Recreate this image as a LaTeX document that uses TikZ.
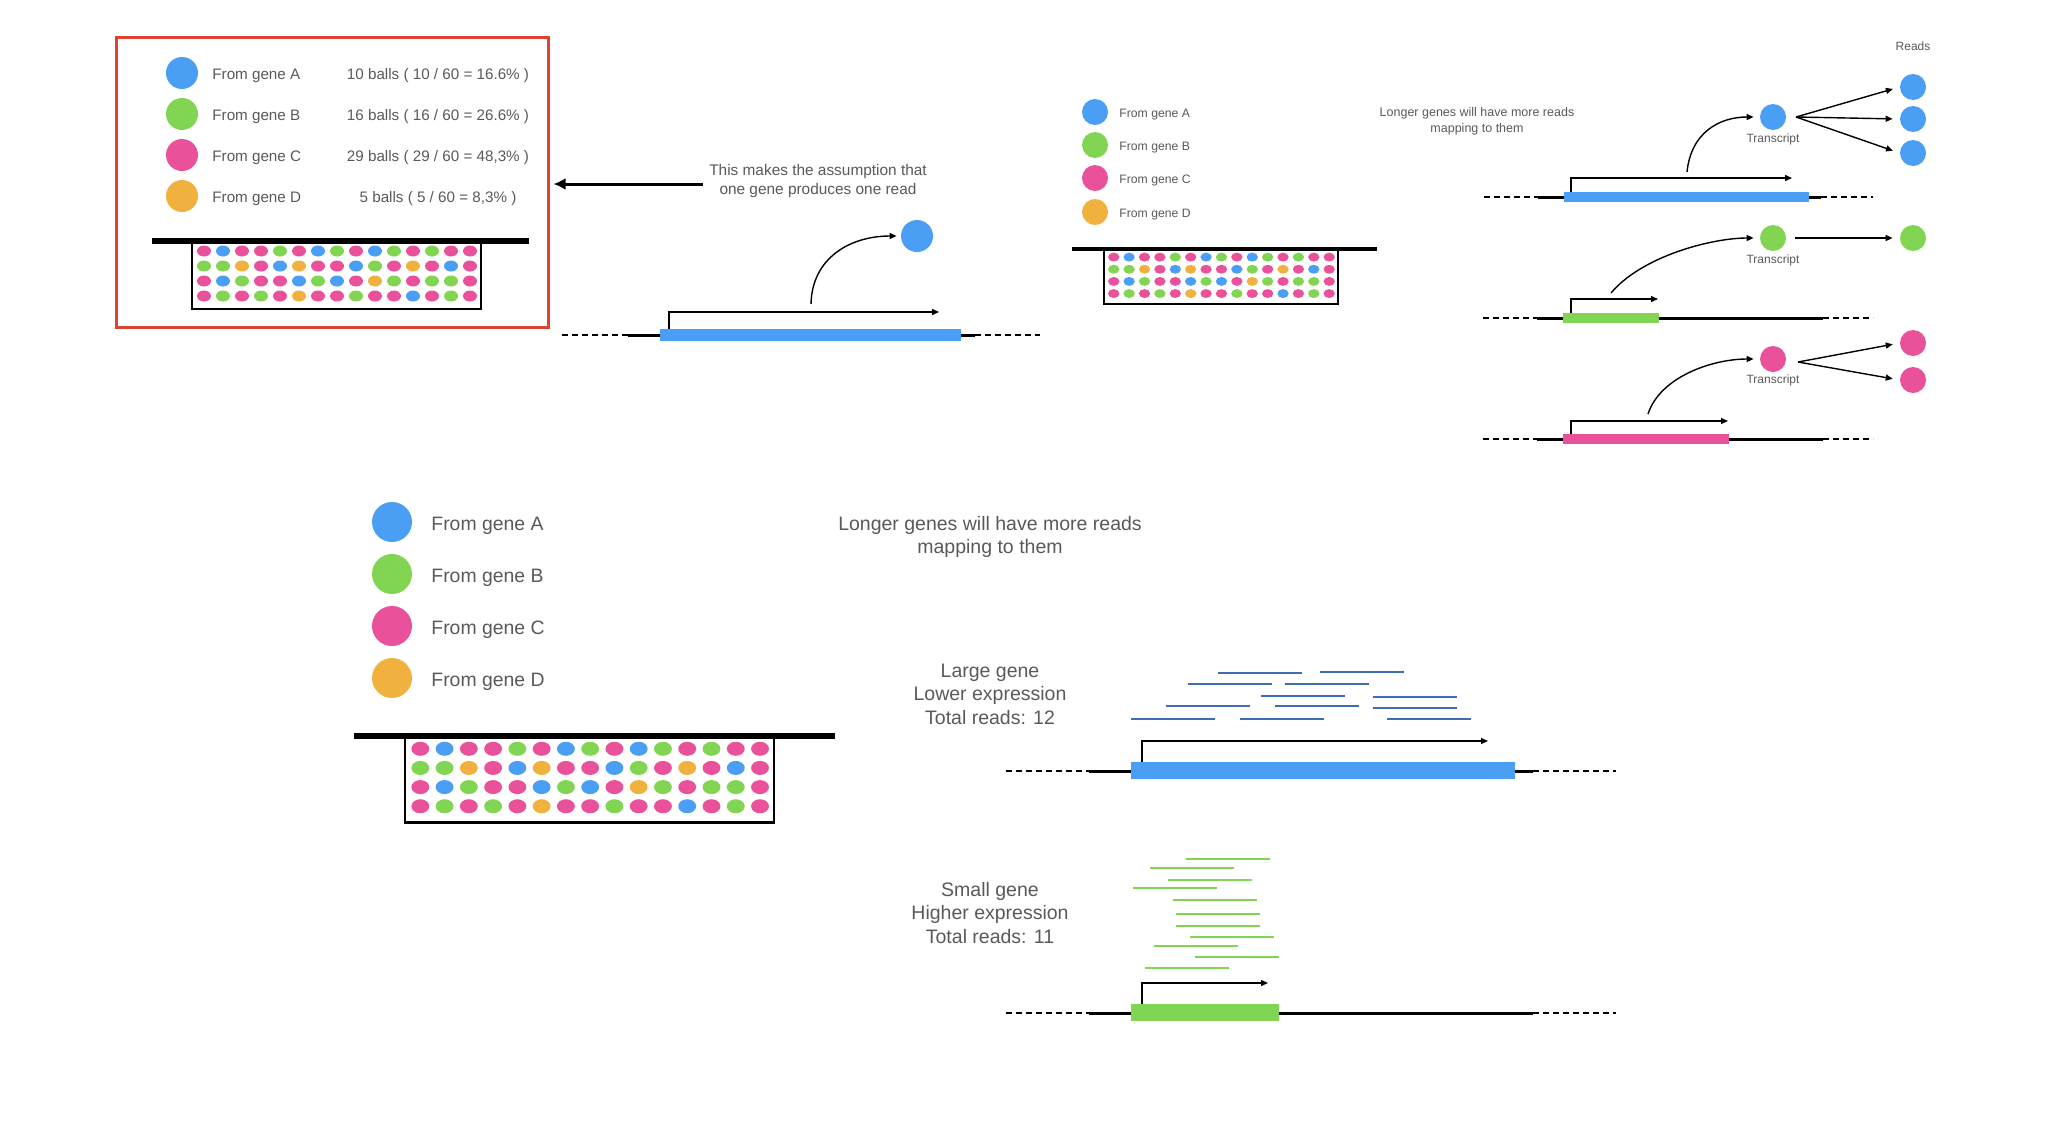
\documentclass[tikz,border=0pt]{standalone}
\usepackage{fontspec}
\setmainfont{Liberation Sans}
\usetikzlibrary{arrows.meta}
\definecolor{geneblue}{HTML}{4A9FF5}
\definecolor{genegreen}{HTML}{82D552}
\definecolor{genepink}{HTML}{E9529B}
\definecolor{geneorange}{HTML}{F0B13F}
\definecolor{readblue}{HTML}{3D6DB3}
\definecolor{boxred}{HTML}{DE4332}
\definecolor{txtgray}{HTML}{595959}
\colorlet{gA}{geneblue}
\colorlet{gB}{genegreen}
\colorlet{gC}{genepink}
\colorlet{gD}{geneorange}

% urn of 60 balls: top left corner of the box, scale
\newcommand{\ballurn}[3]{%
  \begin{scope}[shift={(#1,#2)}, scale=#3]
    \draw[line width=#3*1.1pt] (0,0) rectangle (289,68);
    \foreach \row [count=\j from 0] in {
      {gC,gA,gC,gC,gB,gC,gA,gB,gC,gA,gB,gC,gB,gC,gC},
      {gB,gB,gD,gC,gA,gD,gC,gC,gA,gB,gC,gD,gC,gA,gC},
      {gC,gA,gB,gC,gC,gA,gB,gA,gC,gD,gB,gC,gB,gB,gC},
      {gC,gB,gC,gB,gC,gD,gC,gC,gB,gC,gC,gA,gC,gB,gC}}{
      \foreach \c [count=\i from 0] in \row
        \fill[\c] (12+19*\i,10+15*\j) ellipse [x radius=7, y radius=5.5];
    }
    \draw[line width=#3*2.6pt] (-40,0) -- (337,0);
  \end{scope}}

\begin{document}
\begin{tikzpicture}[x=0.5pt, y=-0.5pt,
  ball/.style={circle, inner sep=0pt, minimum size=#1},
  ball/.default=16pt,
  txt/.style={text=txtgray, inner sep=0pt, align=center},
  bigleg/.style={txt, anchor=west, yshift=-1.5pt, font=\fontsize{7.6}{9}\selectfont},
  bigpct/.style={txt, yshift=-1.5pt, font=\fontsize{7.6}{9}\selectfont},
  smallleg/.style={txt, anchor=west, yshift=-1.3pt, font=\fontsize{6.1}{7.5}\selectfont},
  tinylbl/.style={txt, font=\fontsize{6}{8}\selectfont},
  largeleg/.style={txt, anchor=west, yshift=-2pt, font=\fontsize{9.7}{11.5}\selectfont},
  caption/.style={txt, font=\fontsize{9.75}{11.75}\selectfont},
  dnadash/.style={dash pattern=on 3pt off 2pt, line width=1.2pt},
  dna/.style={line width=1.5pt},
  tharrow/.style={-{Triangle[length=3.5pt,width=3pt]}, line width=0.7pt},
  readline/.style={line width=1.4pt}]
\useasboundingbox (0,0) rectangle (2048,1147);

% top left: counted balls
\node[draw=boxred, line width=1.5pt, minimum width=216pt, minimum height=145pt, inner sep=0pt] (redbox) at (332,182) {};
\node[ball, fill=geneblue] (tlA) at (182,73) {};
\node[ball, fill=genegreen] (tlB) at (182,114) {};
\node[ball, fill=genepink] (tlC) at (182,155) {};
\node[ball, fill=geneorange] (tlD) at (182,196) {};
\node[bigleg] (tlAtxt) at (212,73) {From gene A};
\node[bigleg] (tlBtxt) at (212,114) {From gene B};
\node[bigleg] (tlCtxt) at (212,155) {From gene C};
\node[bigleg] (tlDtxt) at (212,196) {From gene D};
\node[bigpct] (tlApct) at (438,73) {10 balls ( 10 / 60 = 16.6\% )};
\node[bigpct] (tlBpct) at (438,114) {16 balls ( 16 / 60 = 26.6\% )};
\node[bigpct] (tlCpct) at (438,155) {29 balls ( 29 / 60 = 48,3\% )};
\node[bigpct] (tlDpct) at (438,196) {5 balls ( 5 / 60 = 8,3\% )};
\ballurn{192}{241}{1}

% one gene, one read
\node[txt, font=\fontsize{7.7}{9.5}\selectfont] (note) at (818,181) {This makes the assumption that\\one gene produces one read};
\coordinate (notestart) at ([xshift=-3pt,yshift=-1.5pt]note.west);
\draw[-{Latex[length=6pt,width=6pt]}, line width=1.5pt, shorten >=2pt] (notestart) -- (notestart -| redbox.east);
\draw[dnadash] (562,335) -- (628,335);
\draw[dna] (628,335) -- (975,335);
\draw[dnadash] (975,335) -- (1040,335);
\fill[geneblue] (660,329) rectangle (961,341);
\draw[tharrow] (669,329) |- (939,312);
\node[ball, fill=geneblue] (oneread) at (917,236) {};
\draw[tharrow, shorten >=2pt] (811,304) .. controls (812,258) and (850,236) .. (oneread.west);

% middle legend and urn
\node[ball=13pt, fill=geneblue] (mA) at (1095,112) {};
\node[ball=13pt, fill=genegreen] (mB) at (1095,145) {};
\node[ball=13pt, fill=genepink] (mC) at (1095,178) {};
\node[ball=13pt, fill=geneorange] (mD) at (1095,212) {};
\node[smallleg] (mAtxt) at (1119,112) {From gene A};
\node[smallleg] (mBtxt) at (1119,145) {From gene B};
\node[smallleg] (mCtxt) at (1119,178) {From gene C};
\node[smallleg] (mDtxt) at (1119,212) {From gene D};
\ballurn{1104}{249}{0.81}

% top right: transcripts and reads
\node[tinylbl] (readshead) at (1913,46) {Reads};
\node[txt, font=\fontsize{6.25}{8}\selectfont] (longnote) at (1477,121) {Longer genes will have more reads\\mapping to them};

\node[ball=13pt, fill=geneblue] (tA) at (1773,117) {};
\node[tinylbl] (tAlbl) at (1773,139) {Transcript};
\node[ball=13pt, fill=geneblue] (rA1) at (1913,87) {};
\node[ball=13pt, fill=geneblue] (rA2) at (1913,119) {};
\node[ball=13pt, fill=geneblue] (rA3) at (1913,153) {};
\coordinate (forkA) at (1796,117);
\foreach \r in {rA1,rA2,rA3}
  \draw[tharrow, shorten >=3.5pt] (forkA) -- (\r.west);
\draw[dnadash] (1484,197) -- (1538,197);
\draw[dna] (1538,197) -- (1821,197);
\draw[dnadash] (1821,197) -- (1873,197);
\fill[geneblue] (1564,192) rectangle (1809,202);
\draw[tharrow] (1571,192) |- (1792,178);
\draw[tharrow, shorten >=3pt] (1687,172) .. controls (1691,132) and (1720,117) .. (tA.west);

\node[ball=13pt, fill=genegreen] (tB) at (1773,238) {};
\node[tinylbl] (tBlbl) at (1773,260) {Transcript};
\node[ball=13pt, fill=genegreen] (rB1) at (1913,238) {};
\coordinate (forkB) at (1795,238);
\draw[tharrow, shorten >=3.5pt] (forkB) -- (rB1.west);
\draw[dnadash] (1483,318) -- (1537,318);
\draw[dna] (1537,318) -- (1823,318);
\draw[dnadash] (1823,318) -- (1873,318);
\fill[genegreen] (1563,313) rectangle (1659,323);
\draw[tharrow] (1571,313) |- (1658,299);
\draw[tharrow, shorten >=3pt] (1611,293) .. controls (1642,256) and (1712,238) .. (tB.west);

\node[ball=13pt, fill=genepink] (tC) at (1773,359) {};
\node[tinylbl] (tClbl) at (1773,380) {Transcript};
\node[ball=13pt, fill=genepink] (rC1) at (1913,343) {};
\node[ball=13pt, fill=genepink] (rC2) at (1913,380) {};
\coordinate (forkC) at (1798,362);
\foreach \r in {rC1,rC2}
  \draw[tharrow, shorten >=3.5pt] (forkC) -- (\r.west);
\draw[dnadash] (1483,439) -- (1537,439);
\draw[dna] (1537,439) -- (1823,439);
\draw[dnadash] (1823,439) -- (1873,439);
\fill[genepink] (1563,434) rectangle (1729,444);
\draw[tharrow] (1571,434) |- (1728,421);
\draw[tharrow, shorten >=3pt] (1648,414) .. controls (1660,377) and (1712,359) .. (tC.west);

% bottom left legend and urn
\node[ball=20pt, fill=geneblue] (bA) at (392,522) {};
\node[ball=20pt, fill=genegreen] (bB) at (392,574) {};
\node[ball=20pt, fill=genepink] (bC) at (392,626) {};
\node[ball=20pt, fill=geneorange] (bD) at (392,678) {};
\node[largeleg] (bAtxt) at (431,522) {From gene A};
\node[largeleg] (bBtxt) at (431,574) {From gene B};
\node[largeleg] (bCtxt) at (431,626) {From gene C};
\node[largeleg] (bDtxt) at (431,678) {From gene D};
\ballurn{405}{736}{1.277}

% bottom right: large vs small gene
\node[caption] (longbig) at (990,537) {Longer genes will have more reads\\mapping to them};
\node[caption] (largecap) at (990,694) {Large gene\\Lower expression\\Total reads: 12};
\node[caption] (smallcap) at (990,913) {Small gene\\Higher expression\\Total reads: 11};

\foreach \xs/\yy in {1218/673,1320/672,1188/684,1285/684,1261/696,1373/697,
                     1166/706,1275/706,1373/708,1131/719,1240/719,1387/719}
  \draw[readline, readblue] (\xs,\yy) -- ++(84,0);
\draw[dnadash] (1006,771) -- (1089,771);
\draw[dna] (1089,771) -- (1533,771);
\draw[dnadash] (1533,771) -- (1616,771);
\fill[geneblue] (1131,762) rectangle (1515,779);
\draw[tharrow] (1142,762) |- (1488,741);

\foreach \xs/\yy in {1186/859,1150/868,1168/880,1133/888,1173/900,1176/914,
                     1176/926,1190/937,1154/946,1195/957,1145/968}
  \draw[readline, genegreen] (\xs,\yy) -- ++(84,0);
\draw[dnadash] (1006,1013) -- (1089,1013);
\draw[dna] (1089,1013) -- (1533,1013);
\draw[dnadash] (1533,1013) -- (1616,1013);
\fill[genegreen] (1131,1004) rectangle (1279,1021);
\draw[tharrow] (1142,1004) |- (1268,983);
\end{tikzpicture}
\end{document}
